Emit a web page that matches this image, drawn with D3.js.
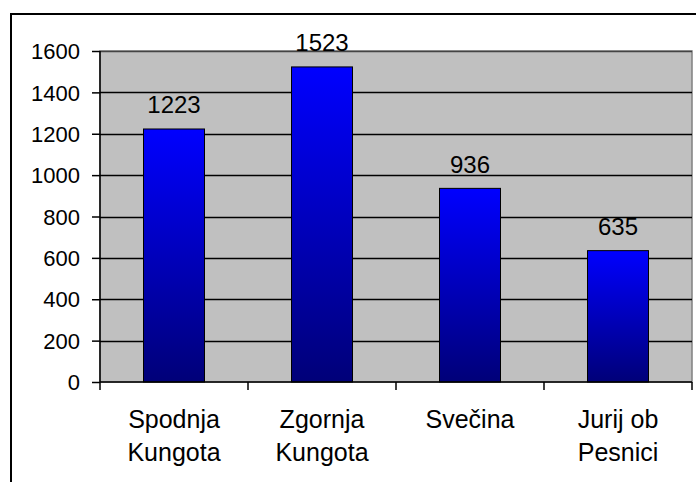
<!DOCTYPE html>
<html><head><meta charset="utf-8">
<script src="https://cdn.jsdelivr.net/npm/d3@7"></script>
<style>body{margin:0;background:#fff}svg{display:block}</style>
</head><body>
<script>
const categories = [["Spodnja","Kungota"],["Zgornja","Kungota"],["Svečina"],["Jurij ob","Pesnici"]];
const values = [1223, 1523, 936, 635];
const yTicks = [0,200,400,600,800,1000,1200,1400,1600];

const W = 696, H = 482;
const svg = d3.select("body").append("svg").attr("width", W).attr("height", H);
const font = "'Liberation Sans', Arial, sans-serif";

const defs = svg.append("defs");
const grad = defs.append("linearGradient").attr("id","barGrad").attr("x1",0).attr("y1",0).attr("x2",0).attr("y2",1);
grad.append("stop").attr("offset","0%").attr("stop-color","#0000FF");
grad.append("stop").attr("offset","100%").attr("stop-color","#000078");

// outer border
svg.append("rect").attr("x",11).attr("y",14).attr("width",720).attr("height",500)
  .attr("fill","none").attr("stroke","#000").attr("stroke-width",2);

const plot = {l:100, t:51, r:692, b:382};
const x = d3.scaleBand().domain(d3.range(categories.length)).range([plot.l, plot.r]).paddingInner(0).paddingOuter(0);
const y = d3.scaleLinear().domain([0,1600]).range([plot.b, plot.t]);

svg.append("rect").attr("x",plot.l).attr("y",plot.t).attr("width",plot.r-plot.l).attr("height",plot.b-plot.t)
  .attr("fill","#C0C0C0").attr("stroke","#808080").attr("stroke-width",1.5);

// gridlines
svg.append("g").selectAll("line").data(yTicks.filter(d=>d>0)).join("line")
  .attr("x1",plot.l).attr("x2",plot.r).attr("y1",d=>Math.round(y(d))+0.5).attr("y2",d=>Math.round(y(d))+0.5)
  .attr("stroke", d=> d===1600 ? "#444" : "#000").attr("stroke-width",1.4);

// bars
const bw = 61;
svg.append("g").selectAll("rect").data(values).join("rect")
  .attr("x",(d,i)=>x(i)+x.bandwidth()/2-bw/2).attr("y",d=>y(d))
  .attr("width",bw).attr("height",d=>plot.b-y(d))
  .attr("fill","url(#barGrad)").attr("stroke","#000").attr("stroke-width",1);

// value labels
svg.append("g").selectAll("text").data(values).join("text")
  .attr("x",(d,i)=>x(i)+x.bandwidth()/2).attr("y",d=>y(d)-15.5)
  .attr("text-anchor","middle").attr("font-family",font).attr("font-size",24).attr("fill","#000")
  .text(d=>d);

// y axis
const yAxis = d3.axisLeft(y).tickValues(yTicks).tickFormat(d3.format("d")).tickSize(8).tickPadding(12);
const gy = svg.append("g").attr("transform",`translate(${plot.l},0)`).call(yAxis);
gy.select(".domain").attr("stroke","#000").attr("stroke-width",1.5).attr("d",`M0,${plot.t}V${plot.b}`);
gy.selectAll(".tick line").attr("stroke","#000").attr("stroke-width",1.5);
gy.selectAll(".tick text").attr("font-family",font).attr("font-size",22).attr("fill","#000").attr("dy","0.35em");

// x axis
const gx = svg.append("g");
gx.append("line").attr("x1",plot.l).attr("x2",plot.r).attr("y1",plot.b).attr("y2",plot.b).attr("stroke","#000").attr("stroke-width",1.5);
const bounds = d3.range(categories.length+1).map(i=> i<categories.length ? x(i) : plot.r);
gx.selectAll("line.t").data(bounds).join("line").attr("class","t")
  .attr("x1",d=>d).attr("x2",d=>d).attr("y1",plot.b).attr("y2",plot.b+8).attr("stroke","#000").attr("stroke-width",1.5);
const lbl = gx.selectAll("text").data(categories).join("text")
  .attr("text-anchor","middle").attr("font-family",font).attr("font-size",25).attr("fill","#000");
lbl.each(function(d,i){
  const t = d3.select(this);
  d.forEach((s,j)=>{
    t.append("tspan").attr("x",x(i)+x.bandwidth()/2).attr("y",428+j*33).text(s);
  });
});
</script>
</body></html>
